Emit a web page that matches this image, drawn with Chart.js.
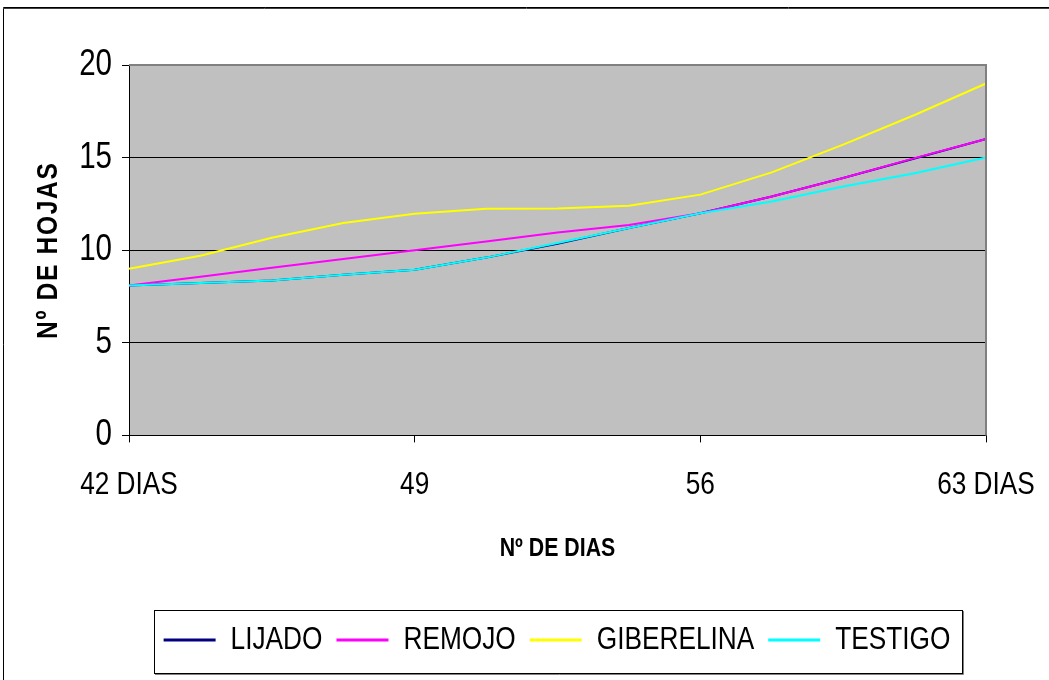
<!DOCTYPE html>
<html><head><meta charset="utf-8">
<script src="https://cdn.jsdelivr.net/npm/chart.js@4.4.0/dist/chart.umd.min.js"></script>
<style>html,body{margin:0;padding:0;background:#fff;overflow:hidden}</style>
</head><body>
<canvas id="c" width="1049" height="680"></canvas>
<script>
const categories = ['42 DIAS','','','','49','','','','56','','','','63 DIAS'];
const lijado     = [8.1, 8.23, 8.37, 8.68, 8.95, 9.6, 10.35, 11.2, 12.0, 12.9, 13.9, 14.95, 16.0];
const remojo     = [8.1, 8.57, 9.05, 9.52, 10.0, 10.47, 10.96, 11.36, 12.0, 12.9, 13.9, 14.97, 16.0];
const giberelina = [9.0, 9.7, 10.67, 11.47, 11.97, 12.24, 12.25, 12.4, 13.0, 14.2, 15.7, 17.3, 19.0];
const testigo    = [8.1, 8.23, 8.37, 8.68, 8.95, 9.6, 10.39, 11.2, 12.0, 12.63, 13.44, 14.16, 15.0];
const seriesNames = ['LIJADO','REMOJO','GIBERELINA','TESTIGO'];
const seriesValues = [lijado, remojo, giberelina, testigo];
const seriesColors = ['#000080','#FF00FF','#FFFF00','#00FFFF'];
const yMin = 0, yMax = 20, yStep = 5;
const xTitle = 'Nº DE DIAS';
const yTitle = 'Nº DE HOJAS';

// The reference uses a narrow sans face; emulate it by compressing text horizontally.
(function () {
  const SX = 0.82;
  const proto = CanvasRenderingContext2D.prototype;
  const origFill = proto.fillText, origMeasure = proto.measureText;
  proto.fillText = function (t, x, y, maxW) {
    this.save();
    this.translate(x, y);
    this.scale(SX, 1);
    if (t === yTitle) this.letterSpacing = '2px';
    if (maxW !== undefined) origFill.call(this, t, 0, 0, maxW / SX);
    else origFill.call(this, t, 0, 0);
    this.restore();
  };
  proto.measureText = function (t) {
    const m = origMeasure.call(this, t);
    return {
      width: m.width * SX,
      actualBoundingBoxAscent: m.actualBoundingBoxAscent,
      actualBoundingBoxDescent: m.actualBoundingBoxDescent,
      actualBoundingBoxLeft: m.actualBoundingBoxLeft * SX,
      actualBoundingBoxRight: m.actualBoundingBoxRight * SX
    };
  };
})();

const FONT = "'Liberation Sans', Arial, sans-serif";

const frame = {
  id: 'frame',
  beforeDraw(chart) {
    const {ctx, chartArea: a} = chart;
    ctx.save();
    ctx.fillStyle = '#C0C0C0';
    ctx.fillRect(a.left, a.top, a.right - a.left, a.bottom - a.top);
    ctx.restore();
  },
  afterDatasetsDraw(chart) {
    const {ctx, chartArea: a} = chart;
    ctx.save();
    ctx.strokeStyle = '#808080';
    ctx.lineWidth = 2;
    ctx.beginPath();
    ctx.moveTo(a.left, a.top);
    ctx.lineTo(a.right, a.top);
    ctx.lineTo(a.right, a.bottom);
    ctx.stroke();
    ctx.restore();
  },
  afterDraw(chart) {
    const ctx = chart.ctx;
    ctx.save();
    ctx.strokeStyle = '#000';
    ctx.lineWidth = 1;
    ctx.beginPath();
    ctx.moveTo(3.5, 700); ctx.lineTo(3.5, 7.5); ctx.lineTo(1100, 7.5);
    ctx.stroke();
    ctx.strokeStyle = '#404040';
    ctx.beginPath(); ctx.moveTo(3, 8.5); ctx.lineTo(1100, 8.5); ctx.stroke();
    const hb = chart.legend.legendHitBoxes;
    if (hb && hb.length) {
      const first = hb[0], last = hb[hb.length - 1];
      const x0 = Math.round(first.left - 11), x1 = Math.round(last.left + last.width + 12);
      const y0 = Math.round(first.top - 14), y1 = Math.round(first.top + first.height + 17);
      ctx.strokeStyle = '#000';
      ctx.lineWidth = 1;
      ctx.strokeRect(x0 + 0.5, y0 + 0.5, x1 - x0, y1 - y0);
      ctx.strokeStyle = '#808080';
      ctx.beginPath();
      ctx.moveTo(x0 + 1, y1 + 1.5);
      ctx.lineTo(x1 + 1.5, y1 + 1.5);
      ctx.lineTo(x1 + 1.5, y0 + 1);
      ctx.stroke();
    }
    ctx.restore();
  }
};

new Chart(document.getElementById('c'), {
  type: 'line',
  data: {
    labels: categories,
    datasets: seriesNames.map((n, i) => ({
      label: n,
      data: seriesValues[i],
      borderColor: seriesColors[i],
      backgroundColor: seriesColors[i],
      borderWidth: 2,
      pointRadius: 0,
      tension: 0,
      fill: false,
      order: seriesNames.length - i
    }))
  },
  options: {
    responsive: false,
    animation: false,
    layout: { padding: { left: 3, right: 63, top: 65, bottom: 14 } },
    plugins: {
      tooltip: { enabled: false },
      legend: {
        position: 'bottom',
        fullSize: false,
        labels: {
          color: '#000',
          font: { family: FONT, size: 32 },
          boxWidth: 50,
          boxHeight: 1,
          padding: 15,
          sort: (a, b) => a.datasetIndex - b.datasetIndex
        }
      }
    },
    scales: {
      x: {
        type: 'category',
        offset: false,
        grid: {
          drawOnChartArea: false,
          drawTicks: true,
          tickLength: 7,
          tickColor: c => (c.index % 4 === 0 ? '#000' : 'rgba(0,0,0,0)'),
          color: 'rgba(0,0,0,0)'
        },
        border: { display: true, color: '#000', width: 1 },
        ticks: {
          autoSkip: false,
          maxRotation: 0,
          color: '#000',
          padding: 24,
          font: { family: FONT, size: 32 },
          callback: function (v, i) { return categories[i]; }
        },
        title: {
          display: true,
          text: xTitle,
          color: '#000',
          font: { family: FONT, size: 26, weight: 'bold' },
          padding: { top: 4, bottom: 45 }
        },
        afterFit: s => { s.paddingRight = 0; s.paddingLeft = 0; }
      },
      y: {
        min: yMin, max: yMax,
        ticks: {
          stepSize: yStep,
          color: '#000',
          padding: 10,
          font: { family: FONT, size: 36 }
        },
        grid: {
          color: c => (c.tick && c.tick.value === yMax ? 'rgba(0,0,0,0)' : '#000'),
          tickColor: '#000',
          tickLength: 7,
          lineWidth: 1
        },
        border: { display: true, color: '#000', width: 1 },
        title: {
          display: true,
          text: yTitle,
          color: '#000',
          font: { family: FONT, size: 30, weight: 'bold' },
          padding: { top: 28, bottom: 15 }
        },
        afterFit: s => { s.width = 126; }
      }
    }
  },
  plugins: [frame]
});
</script>
</body></html>
